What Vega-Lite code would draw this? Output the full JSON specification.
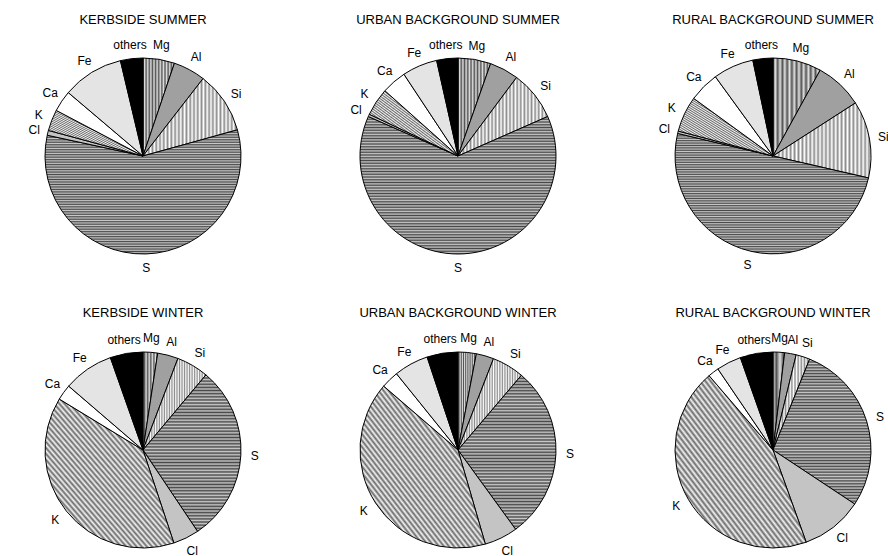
{
  "$schema": "https://vega.github.io/schema/vega-lite/v6.json",
  "background": "white",
  "padding": {"left": 13, "top": 13, "right": 0, "bottom": 0},
  "config": {"view": {"stroke": null}, "font": "Liberation Sans"},
  "data": {"values": [
    {"panel": "KERBSIDE SUMMER", "element": "Mg", "ord": 1, "value": 5.2},
    {"panel": "KERBSIDE SUMMER", "element": "Al", "ord": 2, "value": 5.3},
    {"panel": "KERBSIDE SUMMER", "element": "Si", "ord": 3, "value": 10.2},
    {"panel": "KERBSIDE SUMMER", "element": "S", "ord": 4, "value": 57.7},
    {"panel": "KERBSIDE SUMMER", "element": "Cl", "ord": 5, "value": 0.8},
    {"panel": "KERBSIDE SUMMER", "element": "K", "ord": 6, "value": 3.5},
    {"panel": "KERBSIDE SUMMER", "element": "Ca", "ord": 7, "value": 3.5},
    {"panel": "KERBSIDE SUMMER", "element": "Fe", "ord": 8, "value": 10.1},
    {"panel": "KERBSIDE SUMMER", "element": "others", "ord": 9, "value": 3.7},
    {"panel": "URBAN BACKGROUND SUMMER", "element": "Mg", "ord": 1, "value": 5.4},
    {"panel": "URBAN BACKGROUND SUMMER", "element": "Al", "ord": 2, "value": 4.8},
    {"panel": "URBAN BACKGROUND SUMMER", "element": "Si", "ord": 3, "value": 8.2},
    {"panel": "URBAN BACKGROUND SUMMER", "element": "S", "ord": 4, "value": 63.2},
    {"panel": "URBAN BACKGROUND SUMMER", "element": "Cl", "ord": 5, "value": 0.4},
    {"panel": "URBAN BACKGROUND SUMMER", "element": "K", "ord": 6, "value": 4.6},
    {"panel": "URBAN BACKGROUND SUMMER", "element": "Ca", "ord": 7, "value": 4.1},
    {"panel": "URBAN BACKGROUND SUMMER", "element": "Fe", "ord": 8, "value": 5.8},
    {"panel": "URBAN BACKGROUND SUMMER", "element": "others", "ord": 9, "value": 3.5},
    {"panel": "RURAL BACKGROUND SUMMER", "element": "Mg", "ord": 1, "value": 8.0},
    {"panel": "RURAL BACKGROUND SUMMER", "element": "Al", "ord": 2, "value": 7.9},
    {"panel": "RURAL BACKGROUND SUMMER", "element": "Si", "ord": 3, "value": 12.7},
    {"panel": "RURAL BACKGROUND SUMMER", "element": "S", "ord": 4, "value": 50.1},
    {"panel": "RURAL BACKGROUND SUMMER", "element": "Cl", "ord": 5, "value": 0.4},
    {"panel": "RURAL BACKGROUND SUMMER", "element": "K", "ord": 6, "value": 5.9},
    {"panel": "RURAL BACKGROUND SUMMER", "element": "Ca", "ord": 7, "value": 5.0},
    {"panel": "RURAL BACKGROUND SUMMER", "element": "Fe", "ord": 8, "value": 6.7},
    {"panel": "RURAL BACKGROUND SUMMER", "element": "others", "ord": 9, "value": 3.3},
    {"panel": "KERBSIDE WINTER", "element": "Mg", "ord": 1, "value": 2.4},
    {"panel": "KERBSIDE WINTER", "element": "Al", "ord": 2, "value": 3.4},
    {"panel": "KERBSIDE WINTER", "element": "Si", "ord": 3, "value": 5.3},
    {"panel": "KERBSIDE WINTER", "element": "S", "ord": 4, "value": 29.5},
    {"panel": "KERBSIDE WINTER", "element": "Cl", "ord": 5, "value": 4.3},
    {"panel": "KERBSIDE WINTER", "element": "K", "ord": 6, "value": 38.8},
    {"panel": "KERBSIDE WINTER", "element": "Ca", "ord": 7, "value": 2.6},
    {"panel": "KERBSIDE WINTER", "element": "Fe", "ord": 8, "value": 8.3},
    {"panel": "KERBSIDE WINTER", "element": "others", "ord": 9, "value": 5.4},
    {"panel": "URBAN BACKGROUND WINTER", "element": "Mg", "ord": 1, "value": 3.0},
    {"panel": "URBAN BACKGROUND WINTER", "element": "Al", "ord": 2, "value": 2.9},
    {"panel": "URBAN BACKGROUND WINTER", "element": "Si", "ord": 3, "value": 5.3},
    {"panel": "URBAN BACKGROUND WINTER", "element": "S", "ord": 4, "value": 28.8},
    {"panel": "URBAN BACKGROUND WINTER", "element": "Cl", "ord": 5, "value": 5.5},
    {"panel": "URBAN BACKGROUND WINTER", "element": "K", "ord": 6, "value": 40.8},
    {"panel": "URBAN BACKGROUND WINTER", "element": "Ca", "ord": 7, "value": 2.9},
    {"panel": "URBAN BACKGROUND WINTER", "element": "Fe", "ord": 8, "value": 5.7},
    {"panel": "URBAN BACKGROUND WINTER", "element": "others", "ord": 9, "value": 5.1},
    {"panel": "RURAL BACKGROUND WINTER", "element": "Mg", "ord": 1, "value": 1.9},
    {"panel": "RURAL BACKGROUND WINTER", "element": "Al", "ord": 2, "value": 1.9},
    {"panel": "RURAL BACKGROUND WINTER", "element": "Si", "ord": 3, "value": 2.3},
    {"panel": "RURAL BACKGROUND WINTER", "element": "S", "ord": 4, "value": 28.2},
    {"panel": "RURAL BACKGROUND WINTER", "element": "Cl", "ord": 5, "value": 10.2},
    {"panel": "RURAL BACKGROUND WINTER", "element": "K", "ord": 6, "value": 44.2},
    {"panel": "RURAL BACKGROUND WINTER", "element": "Ca", "ord": 7, "value": 1.8},
    {"panel": "RURAL BACKGROUND WINTER", "element": "Fe", "ord": 8, "value": 4.1},
    {"panel": "RURAL BACKGROUND WINTER", "element": "others", "ord": 9, "value": 5.4}
  ]},
  "columns": 3,
  "facet": {
    "field": "panel", "type": "nominal",
    "sort": ["KERBSIDE SUMMER", "URBAN BACKGROUND SUMMER", "RURAL BACKGROUND SUMMER", "KERBSIDE WINTER", "URBAN BACKGROUND WINTER", "RURAL BACKGROUND WINTER"],
    "header": {"title": null, "labelFontSize": 13, "labelFont": "Liberation Sans", "labelColor": "black", "labelPadding": 12}
  },
  "spacing": {"column": 55, "row": 33},
  "spec": {
    "width": 260,
    "height": 200,
    "encoding": {
      "theta": {"field": "value", "type": "quantitative", "stack": true},
      "order": {"field": "ord", "type": "quantitative"}
    },
    "layer": [
      {
        "mark": {"type": "arc", "outerRadius": 98, "stroke": "black", "strokeWidth": 1},
        "encoding": {
          "fill": {
            "condition": [
              {"test": "datum.element === 'S'", "value": {"gradient": "linear", "x1": 0, "y1": 0, "x2": 0, "y2": 1, "stops": [
                {"offset": 0, "color": "#484848"}, {"offset": 0.01, "color": "#c8c8c8"}, {"offset": 0.02, "color": "#484848"}, {"offset": 0.03, "color": "#c8c8c8"}, {"offset": 0.04, "color": "#484848"}, {"offset": 0.05, "color": "#c8c8c8"}, {"offset": 0.06, "color": "#484848"}, {"offset": 0.07, "color": "#c8c8c8"}, {"offset": 0.08, "color": "#484848"}, {"offset": 0.09, "color": "#c8c8c8"},
                {"offset": 0.10, "color": "#484848"}, {"offset": 0.11, "color": "#c8c8c8"}, {"offset": 0.12, "color": "#484848"}, {"offset": 0.13, "color": "#c8c8c8"}, {"offset": 0.14, "color": "#484848"}, {"offset": 0.15, "color": "#c8c8c8"}, {"offset": 0.16, "color": "#484848"}, {"offset": 0.17, "color": "#c8c8c8"}, {"offset": 0.18, "color": "#484848"}, {"offset": 0.19, "color": "#c8c8c8"},
                {"offset": 0.20, "color": "#484848"}, {"offset": 0.21, "color": "#c8c8c8"}, {"offset": 0.22, "color": "#484848"}, {"offset": 0.23, "color": "#c8c8c8"}, {"offset": 0.24, "color": "#484848"}, {"offset": 0.25, "color": "#c8c8c8"}, {"offset": 0.26, "color": "#484848"}, {"offset": 0.27, "color": "#c8c8c8"}, {"offset": 0.28, "color": "#484848"}, {"offset": 0.29, "color": "#c8c8c8"},
                {"offset": 0.30, "color": "#484848"}, {"offset": 0.31, "color": "#c8c8c8"}, {"offset": 0.32, "color": "#484848"}, {"offset": 0.33, "color": "#c8c8c8"}, {"offset": 0.34, "color": "#484848"}, {"offset": 0.35, "color": "#c8c8c8"}, {"offset": 0.36, "color": "#484848"}, {"offset": 0.37, "color": "#c8c8c8"}, {"offset": 0.38, "color": "#484848"}, {"offset": 0.39, "color": "#c8c8c8"},
                {"offset": 0.40, "color": "#484848"}, {"offset": 0.41, "color": "#c8c8c8"}, {"offset": 0.42, "color": "#484848"}, {"offset": 0.43, "color": "#c8c8c8"}, {"offset": 0.44, "color": "#484848"}, {"offset": 0.45, "color": "#c8c8c8"}, {"offset": 0.46, "color": "#484848"}, {"offset": 0.47, "color": "#c8c8c8"}, {"offset": 0.48, "color": "#484848"}, {"offset": 0.49, "color": "#c8c8c8"},
                {"offset": 0.50, "color": "#484848"}, {"offset": 0.51, "color": "#c8c8c8"}, {"offset": 0.52, "color": "#484848"}, {"offset": 0.53, "color": "#c8c8c8"}, {"offset": 0.54, "color": "#484848"}, {"offset": 0.55, "color": "#c8c8c8"}, {"offset": 0.56, "color": "#484848"}, {"offset": 0.57, "color": "#c8c8c8"}, {"offset": 0.58, "color": "#484848"}, {"offset": 0.59, "color": "#c8c8c8"},
                {"offset": 0.60, "color": "#484848"}, {"offset": 0.61, "color": "#c8c8c8"}, {"offset": 0.62, "color": "#484848"}, {"offset": 0.63, "color": "#c8c8c8"}, {"offset": 0.64, "color": "#484848"}, {"offset": 0.65, "color": "#c8c8c8"}, {"offset": 0.66, "color": "#484848"}, {"offset": 0.67, "color": "#c8c8c8"}, {"offset": 0.68, "color": "#484848"}, {"offset": 0.69, "color": "#c8c8c8"},
                {"offset": 0.70, "color": "#484848"}, {"offset": 0.71, "color": "#c8c8c8"}, {"offset": 0.72, "color": "#484848"}, {"offset": 0.73, "color": "#c8c8c8"}, {"offset": 0.74, "color": "#484848"}, {"offset": 0.75, "color": "#c8c8c8"}, {"offset": 0.76, "color": "#484848"}, {"offset": 0.77, "color": "#c8c8c8"}, {"offset": 0.78, "color": "#484848"}, {"offset": 0.79, "color": "#c8c8c8"},
                {"offset": 0.80, "color": "#484848"}, {"offset": 0.81, "color": "#c8c8c8"}, {"offset": 0.82, "color": "#484848"}, {"offset": 0.83, "color": "#c8c8c8"}, {"offset": 0.84, "color": "#484848"}, {"offset": 0.85, "color": "#c8c8c8"}, {"offset": 0.86, "color": "#484848"}, {"offset": 0.87, "color": "#c8c8c8"}, {"offset": 0.88, "color": "#484848"}, {"offset": 0.89, "color": "#c8c8c8"},
                {"offset": 0.90, "color": "#484848"}, {"offset": 0.91, "color": "#c8c8c8"}, {"offset": 0.92, "color": "#484848"}, {"offset": 0.93, "color": "#c8c8c8"}, {"offset": 0.94, "color": "#484848"}, {"offset": 0.95, "color": "#c8c8c8"}, {"offset": 0.96, "color": "#484848"}, {"offset": 0.97, "color": "#c8c8c8"}, {"offset": 0.98, "color": "#484848"}, {"offset": 0.99, "color": "#c8c8c8"},
                {"offset": 1, "color": "#484848"}
              ]}},
              {"test": "datum.element === 'K'", "value": {"gradient": "linear", "x1": 0, "y1": 1, "x2": 1, "y2": 0, "stops": [
                {"offset": 0, "color": "#6a6a6a"}, {"offset": 0.01, "color": "#f4f4f4"}, {"offset": 0.02, "color": "#6a6a6a"}, {"offset": 0.03, "color": "#f4f4f4"}, {"offset": 0.04, "color": "#6a6a6a"}, {"offset": 0.05, "color": "#f4f4f4"}, {"offset": 0.06, "color": "#6a6a6a"}, {"offset": 0.07, "color": "#f4f4f4"}, {"offset": 0.08, "color": "#6a6a6a"}, {"offset": 0.09, "color": "#f4f4f4"},
                {"offset": 0.10, "color": "#6a6a6a"}, {"offset": 0.11, "color": "#f4f4f4"}, {"offset": 0.12, "color": "#6a6a6a"}, {"offset": 0.13, "color": "#f4f4f4"}, {"offset": 0.14, "color": "#6a6a6a"}, {"offset": 0.15, "color": "#f4f4f4"}, {"offset": 0.16, "color": "#6a6a6a"}, {"offset": 0.17, "color": "#f4f4f4"}, {"offset": 0.18, "color": "#6a6a6a"}, {"offset": 0.19, "color": "#f4f4f4"},
                {"offset": 0.20, "color": "#6a6a6a"}, {"offset": 0.21, "color": "#f4f4f4"}, {"offset": 0.22, "color": "#6a6a6a"}, {"offset": 0.23, "color": "#f4f4f4"}, {"offset": 0.24, "color": "#6a6a6a"}, {"offset": 0.25, "color": "#f4f4f4"}, {"offset": 0.26, "color": "#6a6a6a"}, {"offset": 0.27, "color": "#f4f4f4"}, {"offset": 0.28, "color": "#6a6a6a"}, {"offset": 0.29, "color": "#f4f4f4"},
                {"offset": 0.30, "color": "#6a6a6a"}, {"offset": 0.31, "color": "#f4f4f4"}, {"offset": 0.32, "color": "#6a6a6a"}, {"offset": 0.33, "color": "#f4f4f4"}, {"offset": 0.34, "color": "#6a6a6a"}, {"offset": 0.35, "color": "#f4f4f4"}, {"offset": 0.36, "color": "#6a6a6a"}, {"offset": 0.37, "color": "#f4f4f4"}, {"offset": 0.38, "color": "#6a6a6a"}, {"offset": 0.39, "color": "#f4f4f4"},
                {"offset": 0.40, "color": "#6a6a6a"}, {"offset": 0.41, "color": "#f4f4f4"}, {"offset": 0.42, "color": "#6a6a6a"}, {"offset": 0.43, "color": "#f4f4f4"}, {"offset": 0.44, "color": "#6a6a6a"}, {"offset": 0.45, "color": "#f4f4f4"}, {"offset": 0.46, "color": "#6a6a6a"}, {"offset": 0.47, "color": "#f4f4f4"}, {"offset": 0.48, "color": "#6a6a6a"}, {"offset": 0.49, "color": "#f4f4f4"},
                {"offset": 0.50, "color": "#6a6a6a"}, {"offset": 0.51, "color": "#f4f4f4"}, {"offset": 0.52, "color": "#6a6a6a"}, {"offset": 0.53, "color": "#f4f4f4"}, {"offset": 0.54, "color": "#6a6a6a"}, {"offset": 0.55, "color": "#f4f4f4"}, {"offset": 0.56, "color": "#6a6a6a"}, {"offset": 0.57, "color": "#f4f4f4"}, {"offset": 0.58, "color": "#6a6a6a"}, {"offset": 0.59, "color": "#f4f4f4"},
                {"offset": 0.60, "color": "#6a6a6a"}, {"offset": 0.61, "color": "#f4f4f4"}, {"offset": 0.62, "color": "#6a6a6a"}, {"offset": 0.63, "color": "#f4f4f4"}, {"offset": 0.64, "color": "#6a6a6a"}, {"offset": 0.65, "color": "#f4f4f4"}, {"offset": 0.66, "color": "#6a6a6a"}, {"offset": 0.67, "color": "#f4f4f4"}, {"offset": 0.68, "color": "#6a6a6a"}, {"offset": 0.69, "color": "#f4f4f4"},
                {"offset": 0.70, "color": "#6a6a6a"}, {"offset": 0.71, "color": "#f4f4f4"}, {"offset": 0.72, "color": "#6a6a6a"}, {"offset": 0.73, "color": "#f4f4f4"}, {"offset": 0.74, "color": "#6a6a6a"}, {"offset": 0.75, "color": "#f4f4f4"}, {"offset": 0.76, "color": "#6a6a6a"}, {"offset": 0.77, "color": "#f4f4f4"}, {"offset": 0.78, "color": "#6a6a6a"}, {"offset": 0.79, "color": "#f4f4f4"},
                {"offset": 0.80, "color": "#6a6a6a"}, {"offset": 0.81, "color": "#f4f4f4"}, {"offset": 0.82, "color": "#6a6a6a"}, {"offset": 0.83, "color": "#f4f4f4"}, {"offset": 0.84, "color": "#6a6a6a"}, {"offset": 0.85, "color": "#f4f4f4"}, {"offset": 0.86, "color": "#6a6a6a"}, {"offset": 0.87, "color": "#f4f4f4"}, {"offset": 0.88, "color": "#6a6a6a"}, {"offset": 0.89, "color": "#f4f4f4"},
                {"offset": 0.90, "color": "#6a6a6a"}, {"offset": 0.91, "color": "#f4f4f4"}, {"offset": 0.92, "color": "#6a6a6a"}, {"offset": 0.93, "color": "#f4f4f4"}, {"offset": 0.94, "color": "#6a6a6a"}, {"offset": 0.95, "color": "#f4f4f4"}, {"offset": 0.96, "color": "#6a6a6a"}, {"offset": 0.97, "color": "#f4f4f4"}, {"offset": 0.98, "color": "#6a6a6a"}, {"offset": 0.99, "color": "#f4f4f4"},
                {"offset": 1, "color": "#6a6a6a"}
              ]}},
              {"test": "datum.element === 'Si'", "value": {"gradient": "linear", "x1": 0, "y1": 0, "x2": 1, "y2": 0, "stops": [
                {"offset": 0, "color": "#ffffff"}, {"offset": 0.02, "color": "#8c8c8c"}, {"offset": 0.04, "color": "#ffffff"}, {"offset": 0.06, "color": "#8c8c8c"}, {"offset": 0.08, "color": "#ffffff"}, {"offset": 0.10, "color": "#8c8c8c"}, {"offset": 0.12, "color": "#ffffff"}, {"offset": 0.14, "color": "#8c8c8c"}, {"offset": 0.16, "color": "#ffffff"}, {"offset": 0.18, "color": "#8c8c8c"},
                {"offset": 0.20, "color": "#ffffff"}, {"offset": 0.22, "color": "#8c8c8c"}, {"offset": 0.24, "color": "#ffffff"}, {"offset": 0.26, "color": "#8c8c8c"}, {"offset": 0.28, "color": "#ffffff"}, {"offset": 0.30, "color": "#8c8c8c"}, {"offset": 0.32, "color": "#ffffff"}, {"offset": 0.34, "color": "#8c8c8c"}, {"offset": 0.36, "color": "#ffffff"}, {"offset": 0.38, "color": "#8c8c8c"},
                {"offset": 0.40, "color": "#ffffff"}, {"offset": 0.42, "color": "#8c8c8c"}, {"offset": 0.44, "color": "#ffffff"}, {"offset": 0.46, "color": "#8c8c8c"}, {"offset": 0.48, "color": "#ffffff"}, {"offset": 0.50, "color": "#8c8c8c"}, {"offset": 0.52, "color": "#ffffff"}, {"offset": 0.54, "color": "#8c8c8c"}, {"offset": 0.56, "color": "#ffffff"}, {"offset": 0.58, "color": "#8c8c8c"},
                {"offset": 0.60, "color": "#ffffff"}, {"offset": 0.62, "color": "#8c8c8c"}, {"offset": 0.64, "color": "#ffffff"}, {"offset": 0.66, "color": "#8c8c8c"}, {"offset": 0.68, "color": "#ffffff"}, {"offset": 0.70, "color": "#8c8c8c"}, {"offset": 0.72, "color": "#ffffff"}, {"offset": 0.74, "color": "#8c8c8c"}, {"offset": 0.76, "color": "#ffffff"}, {"offset": 0.78, "color": "#8c8c8c"},
                {"offset": 0.80, "color": "#ffffff"}, {"offset": 0.82, "color": "#8c8c8c"}, {"offset": 0.84, "color": "#ffffff"}, {"offset": 0.86, "color": "#8c8c8c"}, {"offset": 0.88, "color": "#ffffff"}, {"offset": 0.90, "color": "#8c8c8c"}, {"offset": 0.92, "color": "#ffffff"}, {"offset": 0.94, "color": "#8c8c8c"}, {"offset": 0.96, "color": "#ffffff"}, {"offset": 0.98, "color": "#8c8c8c"},
                {"offset": 1, "color": "#ffffff"}
              ]}},
              {"test": "datum.element === 'Mg'", "value": {"gradient": "linear", "x1": 0, "y1": 0, "x2": 1, "y2": 0, "stops": [
                {"offset": 0, "color": "#555555"}, {"offset": 0.05, "color": "#e0e0e0"}, {"offset": 0.10, "color": "#555555"}, {"offset": 0.15, "color": "#e0e0e0"}, {"offset": 0.20, "color": "#555555"}, {"offset": 0.25, "color": "#e0e0e0"}, {"offset": 0.30, "color": "#555555"}, {"offset": 0.35, "color": "#e0e0e0"}, {"offset": 0.40, "color": "#555555"}, {"offset": 0.45, "color": "#e0e0e0"},
                {"offset": 0.50, "color": "#555555"}, {"offset": 0.55, "color": "#e0e0e0"}, {"offset": 0.60, "color": "#555555"}, {"offset": 0.65, "color": "#e0e0e0"}, {"offset": 0.70, "color": "#555555"}, {"offset": 0.75, "color": "#e0e0e0"}, {"offset": 0.80, "color": "#555555"}, {"offset": 0.85, "color": "#e0e0e0"}, {"offset": 0.90, "color": "#555555"}, {"offset": 0.95, "color": "#e0e0e0"},
                {"offset": 1, "color": "#555555"}
              ]}}
            ],
            "field": "element", "type": "nominal",
            "scale": {
              "domain": ["Mg", "Al", "Si", "S", "Cl", "K", "Ca", "Fe", "others"],
              "range": ["#9a9a9a", "#a0a0a0", "#dcdcdc", "#8c8c8c", "#c4c4c4", "#b4b4b4", "#ffffff", "#e4e4e4", "#000000"]
            },
            "legend": null
          }
        }
      },
      {
        "mark": {"type": "text", "radius": 112, "fontSize": 12, "font": "Liberation Sans", "color": "black"},
        "encoding": {"text": {"field": "element", "type": "nominal"}}
      }
    ]
  },
  "resolve": {"scale": {"theta": "independent"}}
}
